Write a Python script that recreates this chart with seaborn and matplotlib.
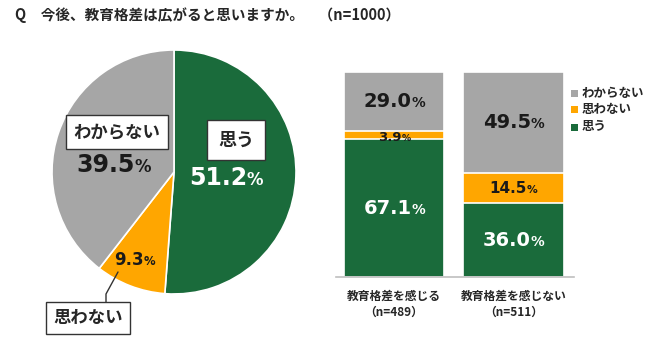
import matplotlib
matplotlib.use("Agg")
import matplotlib.pyplot as plt
import seaborn as sns
import pandas as pd
from matplotlib.patches import Rectangle

# ---- data ----
title = "Q　今後、教育格差は広がると思いますか。　（n=1000）"
pie_labels = ["思う", "思わない", "わからない"]
pie_values = [51.2, 9.3, 39.5]
bar_categories = ["教育格差を感じる\n（n=489）", "教育格差を感じない\n（n=511）"]
series_names = ["思う", "思わない", "わからない"]
omou = [67.1, 36.0]
omowanai = [3.9, 14.5]
wakaranai = [29.0, 49.5]

GREEN = "#1A6B3B"
ORANGE = "#FFA600"
GRAY = "#A6A6A6"
colors = [GREEN, ORANGE, GRAY]

sns.set_theme(style="white")
plt.rcParams["font.family"] = ["Noto Sans CJK JP", "DejaVu Sans"]
plt.rcParams["font.weight"] = "bold"

W, H = 650, 345
fig = plt.figure(figsize=(W / 100, H / 100), dpi=100)
fig.patch.set_facecolor("white")

def fx(px):
    return px / W

def fy(py):
    return 1 - py / H

fig.text(fx(15), fy(15), title, fontsize=10.5, fontweight="bold", va="center", ha="left")

# ---- pie ----
cx, cy, r = 174, 172, 122
pax = fig.add_axes([fx(cx - r), fy(cy + r), 2 * r / W, 2 * r / H])
pax.pie(pie_values, colors=colors, startangle=90, counterclock=False,
        wedgeprops=dict(edgecolor="white", linewidth=1.2))
pax.set_xlim(-1, 1)
pax.set_ylim(-1, 1)
pax.set_aspect("auto")
pax.axis("off")

def d(px, py):
    return ((px - cx) / r, (cy - py) / r)

def pct(ax, xy, num, size, color, shift=None):
    if shift is None:
        shift = size * 0.33
    t = ax.annotate(num, xy=xy, xytext=(-shift, 0), textcoords="offset points",
                    ha="center", va="center", fontsize=size, color=color,
                    fontweight="bold", family="DejaVu Sans", annotation_clip=False)
    ax.annotate("%", xy=(0.995, 0.2), xycoords=t, ha="left", va="baseline",
                fontsize=size * 0.7, color=color, fontweight="bold",
                family="DejaVu Sans", annotation_clip=False)
    return t

box = dict(boxstyle="square,pad=0.45", facecolor="white", edgecolor="#333333", linewidth=1)
box2 = dict(boxstyle="square,pad=0.4", facecolor="white", edgecolor="#333333", linewidth=1)
pax.text(*d(236, 140), pie_labels[0], fontsize=13, fontweight="bold", ha="center", va="center",
         bbox=dict(boxstyle="square,pad=0.6", facecolor="white", edgecolor="#333333", linewidth=1))
pct(pax, d(226, 178), f"{pie_values[0]:.1f}", 17, "white")
pax.text(*d(117, 132), pie_labels[2], fontsize=12.5, fontweight="bold", ha="center", va="center", bbox=box)
pct(pax, d(113, 165), f"{pie_values[2]:.1f}", 17, "#1a1a1a")
pct(pax, d(134, 260), f"{pie_values[1]:.1f}", 12, "#1a1a1a")
pax.text(*d(88, 318), pie_labels[1], fontsize=12.5, fontweight="bold", ha="center", va="center", bbox=box2, clip_on=False)
lx, ly = zip(d(106, 304), d(106, 294), d(118, 272))
pax.plot(lx, ly, color="#333333", lw=1, clip_on=False)

# ---- stacked bars ----
bax = fig.add_axes([fx(336), fy(277), (574 - 336) / W, (277 - 72) / H])
df = pd.DataFrame({"cat": bar_categories, "思う": omou, "思わない": omowanai, "わからない": wakaranai})
df["c1"] = df["思う"]
df["c2"] = df["思う"] + df["思わない"]
df["c3"] = df["c2"] + df["わからない"]
bw = 100 / 119.5
for col, c in [("c3", GRAY), ("c2", ORANGE), ("c1", GREEN)]:
    sns.barplot(data=df, x="cat", y=col, color=c, width=bw, ax=bax,
                edgecolor="white", linewidth=1.2, saturation=1)
bax.set_ylim(0, 100)
bax.set_xlim(-0.485, 1.506)
bax.set_xlabel("")
bax.set_ylabel("")
bax.set_yticks([])
for s in ["top", "right", "left"]:
    bax.spines[s].set_visible(False)
bax.spines["bottom"].set_color("#BFBFBF")
bax.spines["bottom"].set_linewidth(1.2)
bax.tick_params(axis="x", length=0, pad=9)
for lab in bax.get_xticklabels():
    lab.set_fontsize(8.5)
    lab.set_fontweight("bold")
    lab.set_linespacing(1.3)

for i in range(2):
    g, o, w = omou[i], omowanai[i], wakaranai[i]
    pct(bax, (i, g / 2), f"{g:.1f}", 14, "white")
    osize = 9.5 if o < 6 else 11
    pct(bax, (i, g + o / 2 - (0.8 if o < 6 else 0)), f"{o:.1f}", osize, "#1a1a1a")
    pct(bax, (i, g + o + w / 2), f"{w:.1f}", 14, "#1a1a1a")

# ---- legend ----
for k, (name, c) in enumerate([(series_names[2], GRAY), (series_names[1], ORANGE), (series_names[0], GREEN)]):
    yc = 93 + k * 17
    fig.patches.append(Rectangle((fx(571), fy(yc + 3.5)), 7 / W, 7 / H, transform=fig.transFigure,
                                 facecolor=c, edgecolor="none"))
    fig.text(fx(582), fy(yc), name, fontsize=9, fontweight="bold", va="center", ha="left")

fig.savefig("out.png", dpi=100)
